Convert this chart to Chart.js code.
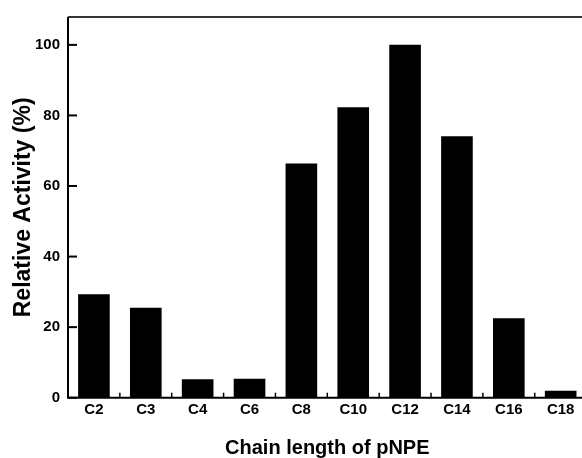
<!DOCTYPE html>
<html>
<head>
<meta charset="utf-8">
<script src="https://cdn.jsdelivr.net/npm/chart.js@4/dist/chart.umd.min.js"></script>
<style>
  html, body { margin: 0; padding: 0; background: #fff; overflow: hidden; }
  #wrap { width: 592px; height: 458px; position: relative; }
</style>
</head>
<body>
<div id="wrap"><canvas id="c"></canvas></div>
<script>
const categories = ["C2", "C3", "C4", "C6", "C8", "C10", "C12", "C14", "C16", "C18"];
const relativeActivity = [29.3, 25.5, 5.2, 5.4, 66.4, 82.3, 100, 74.1, 22.5, 2.0];
const yTickValues = [0, 20, 40, 60, 80, 100];
const yMax = 107.9;

const FONT = "'Liberation Sans', Arial, Helvetica, sans-serif";

const framePlugin = {
  id: 'frame',
  afterDatasetsDraw(chart) {
    const { ctx, chartArea: a, scales } = chart;
    ctx.save();
    ctx.lineCap = 'butt';
    // inward y ticks
    ctx.strokeStyle = '#000';
    ctx.lineWidth = 2;
    yTickValues.forEach(v => {
      const y = scales.y.getPixelForValue(v);
      ctx.beginPath();
      ctx.moveTo(a.left, y);
      ctx.lineTo(a.left + 9, y);
      ctx.stroke();
    });
    // inward x ticks at category boundaries
    ctx.lineWidth = 1.5;
    for (let i = 0; i < categories.length - 1; i++) {
      const x = (scales.x.getPixelForValue(i) + scales.x.getPixelForValue(i + 1)) / 2;
      ctx.beginPath();
      ctx.moveTo(x, a.bottom);
      ctx.lineTo(x, a.bottom - 5);
      ctx.stroke();
    }
    // frame
    ctx.lineWidth = 2;
    ctx.strokeStyle = '#333';
    ctx.beginPath();
    ctx.moveTo(a.left, a.top);
    ctx.lineTo(a.right, a.top);
    ctx.lineTo(a.right, a.bottom);
    ctx.stroke();
    ctx.strokeStyle = '#000';
    ctx.beginPath();
    ctx.moveTo(a.left, a.top);
    ctx.lineTo(a.left, a.bottom);
    ctx.lineTo(a.right, a.bottom);
    ctx.stroke();
    ctx.restore();
  }
};

new Chart(document.getElementById('c'), {
  type: 'bar',
  data: {
    labels: categories,
    datasets: [{
      data: relativeActivity,
      backgroundColor: '#000',
      borderWidth: 0,
      barPercentage: 0.61,
      categoryPercentage: 1.0
    }]
  },
  options: {
    responsive: true,
    maintainAspectRatio: false,
    animation: false,
    layout: { padding: { top: 13, right: 5.4, left: 0, bottom: 0 } },
    plugins: { legend: { display: false }, tooltip: { enabled: false } },
    scales: {
      x: {
        grid: { display: false, drawTicks: false },
        border: { display: false },
        ticks: {
          color: '#000',
          padding: 3,
          font: { family: FONT, size: 15, weight: 'bold' }
        },
        title: {
          display: true,
          text: 'Chain length of pNPE',
          color: '#000',
          font: { family: FONT, size: 20, weight: 'bold', lineHeight: 1 },
          padding: { top: 0, bottom: 0 }
        },
        afterFit(scale) { scale.height = 60.3; }
      },
      y: {
        min: 0,
        max: yMax,
        grid: { display: false, drawTicks: false },
        border: { display: false },
        afterBuildTicks(scale) { scale.ticks = yTickValues.map(v => ({ value: v })); },
        ticks: {
          color: '#000',
          padding: 8,
          font: { family: FONT, size: 15, weight: 'bold' }
        },
        title: {
          display: true,
          text: 'Relative Activity (%)',
          color: '#000',
          font: { family: FONT, size: 23, weight: 'bold', lineHeight: 1.2 },
          padding: { top: 10, bottom: 0 }
        },
        afterFit(scale) { scale.width = 68; }
      }
    }
  },
  plugins: [framePlugin]
});
</script>
</body>
</html>
